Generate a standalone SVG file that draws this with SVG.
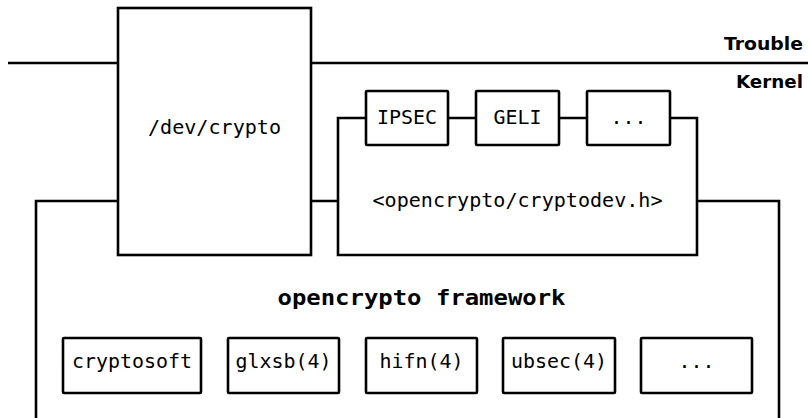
<svg xmlns="http://www.w3.org/2000/svg" width="808" height="418" viewBox="0 0 808 418">
  <style>
    .box { fill: #ffffff; stroke: #000000; stroke-width: 2.6; }
    .wire { fill: none; stroke: #000000; stroke-width: 2.6; stroke-linejoin: miter; }
    .mono { font-family: "DejaVu Sans Mono", "Liberation Mono", monospace; font-size: 19.5px; fill: #000000; text-anchor: middle; }
    .monob { font-family: "DejaVu Sans Mono", "Liberation Mono", monospace; font-size: 22px; font-weight: bold; fill: #000000; text-anchor: middle; }
    .realm { font-family: "DejaVu Sans", "Liberation Sans", sans-serif; font-size: 17.5px; font-weight: bold; fill: #000000; text-anchor: end; }
  </style>
  <rect width="808" height="418" fill="#ffffff"/>

  <!-- connectors and enclosing outlines -->
  <g id="connectors">
    <!-- userland / kernel boundary -->
    <path class="wire" d="M8,63 H118 M311,63 H808"/>
    <!-- opencrypto framework enclosure -->
    <path class="wire" d="M118,201 H36 V420 M311,201 H338 M697,201 H779 V420"/>
    <!-- cryptodev.h enclosure joined to its consumers -->
    <path class="wire" d="M366,118 H338 V255 H697 V118 H670"/>
    <path class="wire" d="M448,118 H476 M559,118 H587"/>
  </g>

  <g id="realm-labels">
    <text class="realm" x="803" y="50" textLength="79" lengthAdjust="spacingAndGlyphs">Trouble</text>
    <text class="realm" x="803" y="88" textLength="67" lengthAdjust="spacingAndGlyphs">Kernel</text>
  </g>

  <g id="devcrypto">
    <rect class="box" x="118" y="8" width="193" height="247"/>
    <text class="mono" x="214.5" y="134" textLength="133" lengthAdjust="spacingAndGlyphs">/dev/crypto</text>
  </g>

  <g id="cryptodev-h">
    <text class="mono" x="517.5" y="207" textLength="290" lengthAdjust="spacingAndGlyphs">&lt;opencrypto/cryptodev.h&gt;</text>
  </g>

  <g id="ipsec">
    <rect class="box" x="366" y="91" width="82" height="54" rx="1"/>
    <text class="mono" x="407" y="124" textLength="60" lengthAdjust="spacingAndGlyphs">IPSEC</text>
  </g>
  <g id="geli">
    <rect class="box" x="476" y="91" width="83" height="54" rx="1"/>
    <text class="mono" x="517.5" y="124" textLength="48" lengthAdjust="spacingAndGlyphs">GELI</text>
  </g>
  <g id="consumers-more">
    <rect class="box" x="587" y="91" width="83" height="54" rx="1"/>
    <text class="mono" x="628.5" y="124" textLength="36" lengthAdjust="spacingAndGlyphs">...</text>
  </g>

  <g id="framework">
    <text class="monob" x="421.5" y="305" textLength="288" lengthAdjust="spacingAndGlyphs">opencrypto framework</text>
  </g>

  <g id="cryptosoft">
    <rect class="box" x="63" y="338" width="138" height="55" rx="1"/>
    <text class="mono" x="132" y="368" textLength="120" lengthAdjust="spacingAndGlyphs">cryptosoft</text>
  </g>
  <g id="glxsb">
    <rect class="box" x="228" y="338" width="111" height="55" rx="1"/>
    <text class="mono" x="283.5" y="368" textLength="96" lengthAdjust="spacingAndGlyphs">glxsb(4)</text>
  </g>
  <g id="hifn">
    <rect class="box" x="366" y="338" width="111" height="55" rx="1"/>
    <text class="mono" x="421.5" y="368" textLength="84" lengthAdjust="spacingAndGlyphs">hifn(4)</text>
  </g>
  <g id="ubsec">
    <rect class="box" x="503" y="338" width="112" height="55" rx="1"/>
    <text class="mono" x="559" y="368" textLength="96" lengthAdjust="spacingAndGlyphs">ubsec(4)</text>
  </g>
  <g id="drivers-more">
    <rect class="box" x="641" y="338" width="111" height="55" rx="1"/>
    <text class="mono" x="696.5" y="368" textLength="36" lengthAdjust="spacingAndGlyphs">...</text>
  </g>
</svg>
